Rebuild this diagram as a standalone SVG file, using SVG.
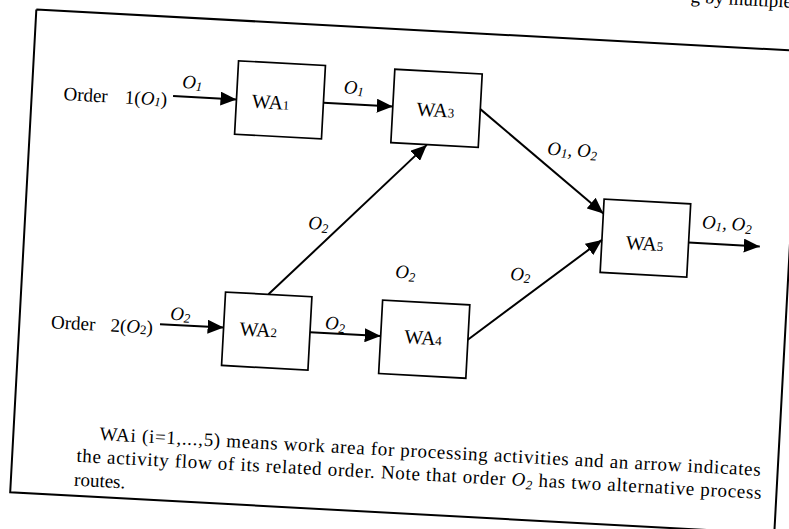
<svg xmlns="http://www.w3.org/2000/svg" width="789" height="529" viewBox="0 0 789 529">
<style>
.box{fill:#fff;stroke:#000;stroke-width:1.7}
.wa{font-family:"Liberation Serif","Times New Roman",serif;font-size:20px;fill:#000}
.sub{font-size:13px}
.lbl{font-family:"Liberation Serif","Times New Roman",serif;font-size:19px;font-style:italic;fill:#000}
.txt{font-family:"Liberation Serif","Times New Roman",serif;font-size:19px;fill:#000}
.cap{font-family:"Liberation Serif","Times New Roman",serif;font-size:19px;fill:#000}
.conn{stroke:#000;stroke-width:2;fill:none}
.frame{stroke:#000;stroke-width:2;fill:none}
</style>
<defs>
<marker id="ah" markerUnits="userSpaceOnUse" markerWidth="17" markerHeight="14" refX="16" refY="7" orient="auto">
<path d="M0,0 L16,7 L0,14 z" fill="#000"/>
</marker>
</defs>
<rect x="0" y="0" width="789" height="529" fill="#fff"/>
<g transform="rotate(3.1)">
<text class="txt" x="791" y="-35" text-anchor="end" font-size="22">g by multiple</text>
<path class="frame" d="M36.8,7.5 L820,7.5 M36.8,7.5 L36.8,491 L820,491 M802,-20 L802,560"/>
<g id="order1"><text class="txt" x="68.5" y="96.5">Order</text><text class="txt" x="130" y="96.5">1(<tspan font-style="italic">O</tspan><tspan font-style="italic" class="sub" dy="1">1</tspan><tspan dy="-1">)</tspan></text></g>
<g id="order2"><text class="txt" x="68.5" y="325">Order</text><text class="txt" x="128" y="325">2(<tspan font-style="italic">O</tspan><tspan class="sub" dy="1">2</tspan><tspan dy="-1">)</tspan></text></g>
<g id="WA1"><rect class="box" x="241.5" y="47.8" width="87" height="73.5"/><text class="wa" x="257" y="94">WA<tspan class="sub">1</tspan></text></g>
<g id="WA3"><rect class="box" x="398" y="47.8" width="87.5" height="73.5"/><text class="wa" x="422" y="93">WA<tspan class="sub">3</tspan></text></g>
<g id="WA2"><rect class="box" x="241" y="279.4" width="86.5" height="73.5"/><text class="wa" x="257" y="322">WA<tspan class="sub">2</tspan></text></g>
<g id="WA4"><rect class="box" x="398.3" y="279" width="87.3" height="73.5"/><text class="wa" x="422" y="321">WA<tspan class="sub">4</tspan></text></g>
<g id="WA5"><rect class="box" x="614" y="166.2" width="86.7" height="73.3"/><text class="wa" x="638" y="215">WA<tspan class="sub">5</tspan></text></g>
<g id="connectors">
<line class="conn" x1="178" y1="86.5" x2="241.5" y2="86.5" marker-end="url(#ah)"/>
<line class="conn" x1="328.5" y1="85.2" x2="398" y2="85.2" marker-end="url(#ah)"/>
<line class="conn" x1="177.3" y1="315" x2="241" y2="315" marker-end="url(#ah)"/>
<line class="conn" x1="327.5" y1="315" x2="398.3" y2="315" marker-end="url(#ah)"/>
<line class="conn" x1="284" y1="279.4" x2="434" y2="121.6" marker-end="url(#ah)"/>
<line class="conn" x1="485.5" y1="83" x2="614" y2="180.5" marker-end="url(#ah)"/>
<line class="conn" x1="485.5" y1="314" x2="614" y2="207" marker-end="url(#ah)"/>
<line class="conn" x1="700.7" y1="205" x2="772" y2="205" marker-end="url(#ah)"/>
</g>
<g id="labels">
<text class="lbl" x="186.5" y="78">O<tspan class="sub" dy="2">1</tspan></text>
<text class="lbl" x="348" y="74.5">O<tspan class="sub" dy="2">1</tspan></text>
<text class="lbl" x="187" y="310">O<tspan class="sub" dy="2">2</tspan></text>
<text class="lbl" x="342" y="311">O<tspan class="sub" dy="3">2</tspan></text>
<text class="lbl" x="320" y="212">O<tspan class="sub" dy="3">2</tspan></text>
<text class="lbl" x="409.5" y="256">O<tspan class="sub" dy="3">2</tspan></text>
<text class="lbl" x="554.6" y="125">O<tspan class="sub" dy="2">1</tspan><tspan dy="-2">, O</tspan><tspan class="sub" dy="3">2</tspan></text>
<text class="lbl" x="524.4" y="252">O<tspan class="sub" dy="2">2</tspan></text>
<text class="lbl" x="713" y="190">O<tspan class="sub" dy="2">1</tspan><tspan dy="-2">, O</tspan><tspan class="sub" dy="3">2</tspan></text>
</g>
<g id="caption">
<text class="cap" x="123" y="434" textLength="662" lengthAdjust="spacing">WAi (i=1,...,5) means work area for processing activities and an arrow indicates</text>
<text class="cap" x="101" y="457" textLength="686" lengthAdjust="spacing">the activity flow of its related order.  Note that order <tspan font-style="italic">O</tspan><tspan class="sub" font-style="italic" dy="3">2</tspan><tspan dy="-3"> has two alternative process</tspan></text>
<text class="cap" x="100" y="481">routes.</text>
</g>
</g>
</svg>
